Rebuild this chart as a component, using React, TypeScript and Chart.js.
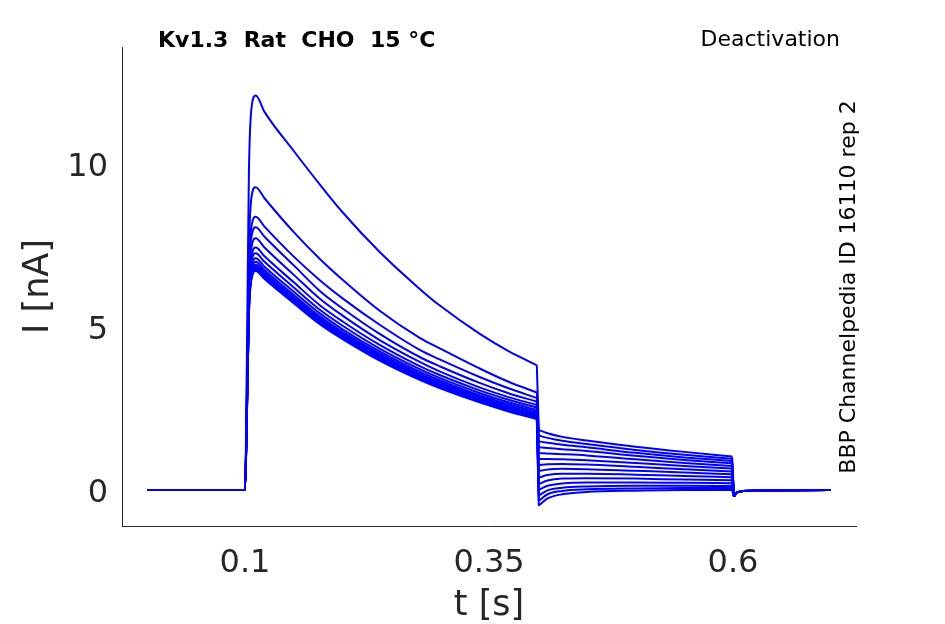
import React, { useEffect, useRef } from "react";
import { Chart, registerables, ChartConfiguration, Plugin } from "chart.js";

Chart.register(...registerables);

const titleText = "Kv1.3  Rat  CHO  15 °C";
const protocolText = "Deactivation";
const sourceText = "BBP Channelpedia ID 16110 rep 2";

const xTicks = [0.1, 0.35, 0.6];
const yTicks = [0, 5, 10];

// holding level before the activating step (s, nA)
const baseTime = [0, 0.05, 0.1];
const baseCurrent = [0, 0, 0];

// activating step, one row per sweep
const stepTime = [0.102, 0.104, 0.107, 0.111, 0.12, 0.15, 0.177, 0.2, 0.238, 0.279, 0.3, 0.341, 0.37, 0.399];
const stepCurrent = [
  [4.2, 9.7, 11.8, 12.1, 11.6, 10.4, 9.36, 8.52, 7.3, 6.17, 5.65, 4.78, 4.26, 3.83],
  [3.2, 7.4, 9.05, 9.29, 8.95, 7.91, 7.08, 6.45, 5.5, 4.67, 4.34, 3.72, 3.32, 2.99],
  [2.9, 6.7, 8.15, 8.38, 8.08, 7.16, 6.43, 5.88, 5.07, 4.3, 4.0, 3.46, 3.12, 2.82],
  [2.8, 6.45, 7.82, 8.06, 7.77, 6.89, 6.1, 5.57, 4.79, 4.08, 3.79, 3.28, 2.97, 2.71],
  [2.7, 6.2, 7.5, 7.72, 7.44, 6.6, 5.86, 5.35, 4.6, 3.93, 3.63, 3.14, 2.85, 2.61],
  [2.6, 5.95, 7.22, 7.44, 7.17, 6.37, 5.66, 5.17, 4.45, 3.8, 3.52, 3.05, 2.77, 2.53],
  [2.55, 5.8, 7.05, 7.26, 7.0, 6.21, 5.52, 5.04, 4.34, 3.71, 3.43, 2.97, 2.69, 2.46],
  [2.5, 5.7, 6.9, 7.11, 6.85, 6.08, 5.41, 4.93, 4.25, 3.63, 3.36, 2.9, 2.63, 2.4],
  [2.45, 5.6, 6.8, 7.0, 6.75, 5.98, 5.32, 4.85, 4.18, 3.57, 3.3, 2.85, 2.58, 2.35],
  [2.42, 5.55, 6.72, 6.92, 6.67, 5.91, 5.26, 4.8, 4.13, 3.53, 3.26, 2.81, 2.54, 2.31],
  [2.4, 5.5, 6.66, 6.86, 6.61, 5.86, 5.21, 4.75, 4.09, 3.49, 3.22, 2.77, 2.5, 2.27],
  [2.38, 5.45, 6.61, 6.81, 6.56, 5.81, 5.16, 4.71, 4.05, 3.45, 3.19, 2.74, 2.47, 2.24],
  [2.36, 5.4, 6.56, 6.76, 6.51, 5.77, 5.12, 4.67, 4.01, 3.42, 3.16, 2.71, 2.44, 2.21],
  [2.35, 5.38, 6.52, 6.72, 6.47, 5.73, 5.08, 4.63, 3.97, 3.38, 3.12, 2.68, 2.41, 2.18],
];

// tail currents at the deactivating voltages
const tailTime = [0.401, 0.41, 0.425, 0.45, 0.5, 0.55, 0.599];
const tailCurrent = [
  [1.84, 1.74, 1.63, 1.52, 1.33, 1.17, 1.03],
  [1.67, 1.6, 1.51, 1.41, 1.23, 1.08, 0.96],
  [1.49, 1.45, 1.39, 1.31, 1.14, 1.0, 0.89],
  [1.31, 1.29, 1.25, 1.2, 1.05, 0.92, 0.82],
  [1.13, 1.12, 1.1, 1.06, 0.94, 0.83, 0.74],
  [0.95, 0.95, 0.94, 0.91, 0.83, 0.74, 0.66],
  [0.77, 0.79, 0.8, 0.78, 0.71, 0.64, 0.57],
  [0.58, 0.63, 0.65, 0.64, 0.59, 0.54, 0.48],
  [0.38, 0.46, 0.5, 0.5, 0.47, 0.43, 0.39],
  [0.18, 0.29, 0.35, 0.36, 0.35, 0.32, 0.3],
  [0.0, 0.13, 0.2, 0.23, 0.23, 0.22, 0.21],
  [-0.17, -0.01, 0.07, 0.11, 0.13, 0.13, 0.12],
  [-0.33, -0.13, -0.03, 0.02, 0.05, 0.06, 0.06],
  [-0.48, -0.26, -0.13, -0.06, -0.02, 0.0, 0.0],
];

// back to holding
const postTime = [0.601, 0.604, 0.61, 0.65, 0.7];
const postCurrent = [-0.2, -0.07, -0.03, -0.01, 0];

const toPoints = (t: number[], v: number[]) => t.map((x, i) => ({ x, y: v[i] }));

const annotations: Plugin = {
  id: "annotations",
  afterDraw(chart) {
    const { ctx } = chart;
    ctx.save();
    ctx.fillStyle = "#000";
    ctx.textBaseline = "middle";

    ctx.font = "bold 22px 'DejaVu Sans'";
    ctx.textAlign = "left";
    ctx.fillText(titleText, 158, 41);

    ctx.font = "22px 'DejaVu Sans'";
    ctx.textAlign = "right";
    ctx.fillText(protocolText, 840, 40);

    ctx.translate(849, 287);
    ctx.rotate(-Math.PI / 2);
    ctx.textAlign = "center";
    ctx.font = "22px 'DejaVu Sans'";
    ctx.fillText(sourceText, 0, 0);
    ctx.restore();
  },
};

const App: React.FC = () => {
  const chartRef = useRef<HTMLCanvasElement | null>(null);

  useEffect(() => {
    document.body.style.margin = "0";
    if (!chartRef.current) return;
    const ctx = chartRef.current.getContext("2d");
    if (!ctx) return;

    Chart.defaults.font.family = "'DejaVu Sans'";

    const line = (data: { x: number; y: number }[], smooth: boolean) => ({
      data,
      borderColor: "#0000ff",
      borderWidth: 2,
      pointRadius: 0,
      fill: false,
      tension: 0,
      cubicInterpolationMode: smooth ? ("monotone" as const) : ("default" as const),
    });

    // each sweep: smooth pieces joined by straight voltage-step jumps
    const datasets = stepCurrent.flatMap((row, i) => {
      const tail = tailCurrent[i];
      return [
        line([...toPoints(baseTime, baseCurrent), ...toPoints(stepTime, row)], true),
        line(
          [
            { x: stepTime[stepTime.length - 1], y: row[row.length - 1] },
            { x: tailTime[0], y: tail[0] },
          ],
          false
        ),
        line(toPoints(tailTime, tail), true),
        line(
          [
            { x: tailTime[tailTime.length - 1], y: tail[tail.length - 1] },
            { x: postTime[0], y: postCurrent[0] },
          ],
          false
        ),
        line(toPoints(postTime, postCurrent), false),
      ];
    });

    const axisColor = "#262626";

    const config: ChartConfiguration = {
      type: "line",
      data: { datasets },
      options: {
        responsive: false,
        animation: false,
        layout: { padding: { top: 47, right: 89, left: 0, bottom: 0 } },
        plugins: {
          legend: { display: false },
          tooltip: { enabled: false },
        },
        scales: {
          x: {
            type: "linear",
            min: -0.026,
            max: 0.726,
            afterBuildTicks: (scale) => {
              scale.ticks = xTicks.map((value) => ({ value }));
            },
            afterFit: (scale) => {
              scale.height = 98;
            },
            grid: { display: true, drawOnChartArea: false, drawTicks: false },
            border: { display: true, color: axisColor, width: 1 },
            ticks: {
              color: axisColor,
              font: { size: 32 },
              padding: 18,
              maxRotation: 0,
              callback: (v) => String(v),
            },
            title: {
              display: true,
              text: "t [s]",
              color: axisColor,
              font: { size: 35, lineHeight: 1.03 },
              padding: { top: 0, bottom: 0 },
            },
          },
          y: {
            type: "linear",
            min: -1.104,
            max: 13.59,
            afterBuildTicks: (scale) => {
              scale.ticks = yTicks.map((value) => ({ value }));
            },
            afterFit: (scale) => {
              scale.width = 122;
            },
            grid: { display: true, drawOnChartArea: false, drawTicks: false },
            border: { display: true, color: axisColor, width: 1 },
            ticks: {
              color: axisColor,
              font: { size: 32 },
              padding: 14,
              labelOffset: 4,
              callback: (v) => String(v),
            },
            title: {
              display: true,
              text: "I [nA]",
              color: axisColor,
              font: { size: 35 },
              padding: { top: 18, bottom: 0 },
            },
          },
        },
      },
      plugins: [annotations],
    };

    const chartInstance = new Chart(ctx, config);
    return () => {
      chartInstance.destroy();
    };
  }, []);

  return (
    <div style={{ width: 945, height: 624 }}>
      <canvas ref={chartRef} width={945} height={624} />
    </div>
  );
};

export default App;
